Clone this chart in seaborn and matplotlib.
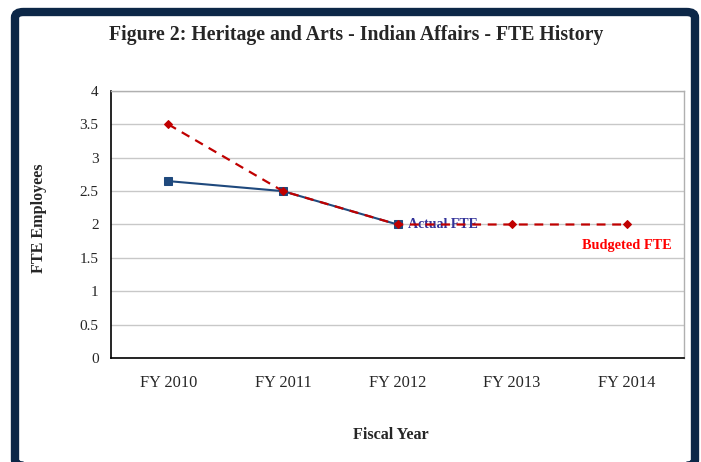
import numpy as np
import pandas as pd
import matplotlib
matplotlib.use("Agg")
import matplotlib.pyplot as plt
import seaborn as sns
from matplotlib.patches import FancyBboxPatch

# data
years = ["FY 2010", "FY 2011", "FY 2012", "FY 2013", "FY 2014"]
actual_fte = [2.65, 2.5, 2.0]
budgeted_fte = [3.5, 2.5, 2.0, 2.0, 2.0]
y_ticks = [0, 0.5, 1, 1.5, 2, 2.5, 3, 3.5, 4]

NAVY = "#0c2747"
BLUE = "#1f497d"
RED = "#c00000"

sns.set_style("white")
plt.rcParams["font.family"] = ["Liberation Serif", "DejaVu Serif"]

actual_df = pd.DataFrame({"year": years[:len(actual_fte)], "fte": actual_fte})
budget_df = pd.DataFrame({"year": years, "fte": budgeted_fte})
pos = {y: i for i, y in enumerate(years)}
actual_df["x"] = actual_df["year"].map(pos)
budget_df["x"] = budget_df["year"].map(pos)

fig = plt.figure(figsize=(7.01, 4.62), dpi=100)
ax = fig.add_axes([111 / 701, 1 - 358 / 462, (684 - 111) / 701, (358 - 91) / 462])

sns.lineplot(data=actual_df, x="x", y="fte", ax=ax, color=BLUE, lw=1.5,
             marker="s", markersize=6, markeredgecolor=BLUE, zorder=3)
sns.lineplot(data=budget_df, x="x", y="fte", ax=ax, color=RED, lw=1.6,
             marker="D", markersize=4, markeredgecolor=RED, zorder=4,
             linestyle=(0, (4, 3)))

ax.set_xlim(-0.5, len(years) - 0.5)
ax.set_ylim(0, 4)
ax.set_yticks(y_ticks)
ax.set_yticklabels([f"{v:g}" for v in y_ticks], fontsize=11)
ax.set_xticks(range(len(years)))
ax.set_xticklabels(years, fontsize=11.8)
ax.set_xticks(np.arange(-0.5, len(years)), minor=True)
ax.tick_params(axis="x", which="major", length=0, pad=12)
ax.tick_params(axis="x", which="minor", length=5, color="#bfbfbf", width=0.8)
ax.tick_params(axis="y", length=5, color="#404040", width=0.8, pad=4)
ax.yaxis.grid(True, color="#c8c8c8", lw=1)
ax.set_axisbelow(True)
for s in ["left", "bottom"]:
    ax.spines[s].set_color("black")
    ax.spines[s].set_linewidth(1.2)
for s in ["top", "right"]:
    ax.spines[s].set_color("#b0b0b0")
    ax.spines[s].set_linewidth(1)
ax.set_xlabel("")
ax.set_ylabel("")

ax.text(2.09, 2.0, "Actual FTE", color="#333399", fontsize=10,
        fontweight="bold", va="center", ha="left", zorder=2)
ax.text(3.61, 1.69, "Budgeted FTE", color="#ff0000", fontsize=10.3,
        fontweight="bold", va="center", ha="left")

fig.text(356 / 701, 1 - 35 / 462,
         "Figure 2: Heritage and Arts - Indian Affairs - FTE History",
         fontsize=14.2, fontweight="bold", ha="center", va="center")
fig.text(391 / 701, 1 - 435 / 462, "Fiscal Year", fontsize=11.6,
         fontweight="bold", ha="center", va="center")
fig.text(39 / 701, 1 - 218 / 462, "FTE Employees", fontsize=11.6,
         fontweight="bold", ha="center", va="center", rotation=90)

# dark frame round the whole chart
frame = FancyBboxPatch((15 / 701, -3.5 / 462), 680 / 701, (462 - 12 + 3.5) / 462,
                       boxstyle="round,pad=0,rounding_size=0.012",
                       transform=fig.transFigure, fill=False,
                       edgecolor=NAVY, linewidth=6, zorder=10)
fig.patches.append(frame)

fig.savefig("out.png", dpi=100)
